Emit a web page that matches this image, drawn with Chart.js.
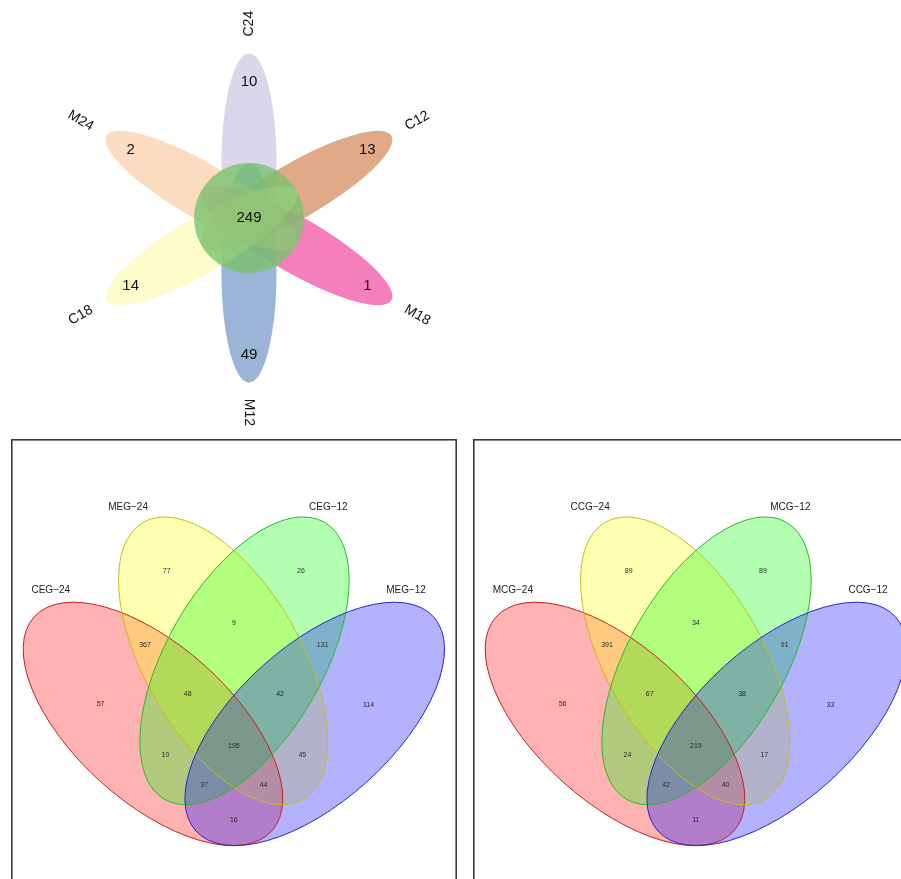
<!DOCTYPE html>
<html>
<head>
<meta charset="utf-8">
<script src="https://cdn.jsdelivr.net/npm/chart.js@4.4.1/dist/chart.umd.min.js"></script>
<style>
  html, body { margin: 0; padding: 0; background: #fff; width: 901px; height: 879px; overflow: hidden; position: relative; }
  canvas { position: absolute; display: block; }
  #flower { left: 0; top: 0; }
  #egPanel { left: 11px; top: 439px; }
  #cgPanel { left: 473px; top: 439px; }
</style>
</head>
<body>
<canvas id="flower" width="498" height="436"></canvas>
<canvas id="egPanel" width="446" height="440"></canvas>
<canvas id="cgPanel" width="446" height="440"></canvas>
<script>
// ---- Flower diagram: six samples around a shared core ----
const flowerSets   = ['C24', 'C12', 'M18', 'M12', 'C18', 'M24'];
const flowerUnique = [10, 13, 1, 49, 14, 2];
const flowerCore   = 249;

// ---- Four-set diagrams (A, B, C, D = the four sets in order) ----
const regionKeys = ['A', 'B', 'C', 'D', 'AB', 'AC', 'AD', 'BC', 'BD', 'CD', 'ABC', 'ABD', 'ACD', 'BCD', 'ABCD'];
const egSets   = ['CEG\u221224', 'MEG\u221224', 'CEG\u221212', 'MEG\u221212'];
const egCounts = [57, 77, 26, 114, 367, 10, 16, 9, 45, 131, 48, 44, 37, 42, 195];
const cgSets   = ['MCG\u221224', 'CCG\u221224', 'MCG\u221212', 'CCG\u221212'];
const cgCounts = [56, 89, 89, 33, 391, 24, 11, 34, 17, 91, 67, 40, 42, 38, 219];

// ---- Layout (unit coordinates) and styles ----
// flower: 1 unit = distance from centre to a petal tip
const flowerLayout = {
  angles: [90, 30, -30, -90, -150, 150],
  petalOffset: 0.335, petalA: 0.668, petalB: 0.168,
  coreR: 0.335, countR: 0.833, nameR: 1.185,
  petalColors: ['rgba(197,187,220,0.6)', 'rgba(203,113,57,0.6)', 'rgba(238,42,145,0.6)',
                'rgba(88,130,190,0.6)', 'rgba(252,252,168,0.6)', 'rgba(250,197,150,0.6)'],
  coreColor: 'rgba(124,196,111,0.8)'
};

// four-set: 1 unit = panel width, y grows downward
const quadShapes = [
  { cx: 0.318, cy: 0.639, a: 0.360, b: 0.1755, rot: 42,  fill: 'rgba(255,0,0,0.3)',   line: '#c81e1e' },
  { cx: 0.476, cy: 0.497, a: 0.360, b: 0.1755, rot: 60,  fill: 'rgba(255,255,0,0.3)', line: '#c4bd1c' },
  { cx: 0.524, cy: 0.497, a: 0.360, b: 0.1755, rot: 120, fill: 'rgba(0,255,0,0.3)',   line: '#2cb52c' },
  { cx: 0.682, cy: 0.639, a: 0.360, b: 0.1755, rot: 138, fill: 'rgba(0,0,255,0.3)',   line: '#2626c8' }
];
const regionPos = {
  A: [0.200, 0.595], B: [0.349, 0.294], C: [0.651, 0.294], D: [0.803, 0.596],
  AB: [0.300, 0.461], AC: [0.346, 0.708], AD: [0.500, 0.855], BC: [0.500, 0.411],
  BD: [0.654, 0.708], CD: [0.700, 0.461], ABC: [0.396, 0.571], ABD: [0.567, 0.776],
  ACD: [0.433, 0.776], BCD: [0.604, 0.571], ABCD: [0.500, 0.688]
};
const setNamePos = [[0.088, 0.339], [0.262, 0.1515], [0.7126, 0.1515], [0.8875, 0.339]];

const FONT = '"Liberation Sans", Arial, Helvetica, sans-serif';

// Draws the filled shapes underneath, and the text of every point on top.
function vennPlugin(drawShapes, frame) {
  return {
    id: 'vennShapes',
    beforeDatasetsDraw(chart) {
      const ctx = chart.ctx, xs = chart.scales.x, ys = chart.scales.y;
      const k = Math.abs(xs.getPixelForValue(1) - xs.getPixelForValue(0));
      ctx.save();
      drawShapes(ctx, xs, ys, k);
      if (frame) {
        ctx.strokeStyle = '#3a3a3a';
        ctx.lineWidth = 1.6;
        ctx.strokeRect(0.8, 0.8, chart.width - 1.6, chart.height + 20);
      }
      ctx.restore();
    },
    afterDatasetsDraw(chart) {
      const ctx = chart.ctx;
      ctx.save();
      ctx.textAlign = 'center';
      ctx.textBaseline = 'middle';
      chart.data.datasets.forEach((ds, di) => {
        const meta = chart.getDatasetMeta(di);
        ctx.font = ds.textFont;
        ctx.fillStyle = ds.textColor;
        meta.data.forEach((el, i) => {
          const d = ds.data[i];
          ctx.save();
          ctx.translate(el.x, el.y);
          if (d.rot) ctx.rotate(d.rot * Math.PI / 180);
          ctx.fillText(d.text, 0, 0);
          ctx.restore();
        });
      });
      ctx.restore();
    }
  };
}

const baseOptions = (xmin, xmax, ymin, ymax, reverse) => ({
  responsive: false,
  animation: false,
  events: [],
  layout: { padding: 0 },
  plugins: { legend: { display: false }, tooltip: { enabled: false } },
  scales: {
    x: { type: 'linear', display: false, min: xmin, max: xmax },
    y: { type: 'linear', display: false, min: ymin, max: ymax, reverse: reverse }
  }
});

// ---- Flower ----
const fl = flowerLayout;
const rad = d => d * Math.PI / 180;
const flowerCounts = flowerUnique.map((v, i) => ({
  x: fl.countR * Math.cos(rad(fl.angles[i])), y: fl.countR * Math.sin(rad(fl.angles[i])), text: String(v)
}));
flowerCounts.push({ x: 0, y: 0, text: String(flowerCore) });
const flowerNames = flowerSets.map((s, i) => {
  const a = fl.angles[i];
  let r = -a;
  while (r > 90) r -= 180;
  while (r < -90) r += 180;
  return { x: fl.nameR * Math.cos(rad(a)), y: fl.nameR * Math.sin(rad(a)), text: s, rot: r };
});

new Chart(document.getElementById('flower'), {
  type: 'scatter',
  data: {
    datasets: [
      { data: flowerCounts, pointRadius: 0, textFont: '15px ' + FONT, textColor: '#111' },
      { data: flowerNames, pointRadius: 0, textFont: '14px ' + FONT, textColor: '#111' }
    ]
  },
  options: baseOptions(-249 / 164, 249 / 164, -218 / 164, 218 / 164, false),
  plugins: [vennPlugin((ctx, xs, ys, k) => {
    fl.angles.forEach((a, i) => {
      ctx.beginPath();
      ctx.ellipse(xs.getPixelForValue(fl.petalOffset * Math.cos(rad(a))),
                  ys.getPixelForValue(fl.petalOffset * Math.sin(rad(a))),
                  fl.petalA * k, fl.petalB * k, -rad(a), 0, Math.PI * 2);
      ctx.fillStyle = fl.petalColors[i];
      ctx.fill();
    });
    ctx.beginPath();
    ctx.arc(xs.getPixelForValue(0), ys.getPixelForValue(0), fl.coreR * k, 0, Math.PI * 2);
    ctx.fillStyle = fl.coreColor;
    ctx.fill();
  }, false)]
});

// ---- Four-set panels ----
function quadChart(id, sets, counts) {
  const regionPoints = regionKeys.map((key, i) => ({ x: regionPos[key][0], y: regionPos[key][1], text: String(counts[i]) }));
  const namePoints = sets.map((s, i) => ({ x: setNamePos[i][0], y: setNamePos[i][1], text: s }));
  const unit = 444.3;
  return new Chart(document.getElementById(id), {
    type: 'scatter',
    data: {
      datasets: [
        { data: regionPoints, pointRadius: 0, textFont: '7px ' + FONT, textColor: '#2a2a2a' },
        { data: namePoints, pointRadius: 0, textFont: '10px ' + FONT, textColor: '#1a1a1a' }
      ]
    },
    options: baseOptions(-0.7 / unit, (446 - 0.7) / unit, -1 / unit, 439 / unit, true),
    plugins: [vennPlugin((ctx, xs, ys, k) => {
      quadShapes.forEach(s => {
        ctx.beginPath();
        ctx.ellipse(xs.getPixelForValue(s.cx), ys.getPixelForValue(s.cy), s.a * k, s.b * k, rad(s.rot), 0, Math.PI * 2);
        ctx.fillStyle = s.fill;
        ctx.fill();
      });
      quadShapes.forEach(s => {
        ctx.beginPath();
        ctx.ellipse(xs.getPixelForValue(s.cx), ys.getPixelForValue(s.cy), s.a * k, s.b * k, rad(s.rot), 0, Math.PI * 2);
        ctx.strokeStyle = s.line;
        ctx.lineWidth = 1;
        ctx.stroke();
      });
    }, true)]
  });
}

quadChart('egPanel', egSets, egCounts);
quadChart('cgPanel', cgSets, cgCounts);
</script>
</body>
</html>
